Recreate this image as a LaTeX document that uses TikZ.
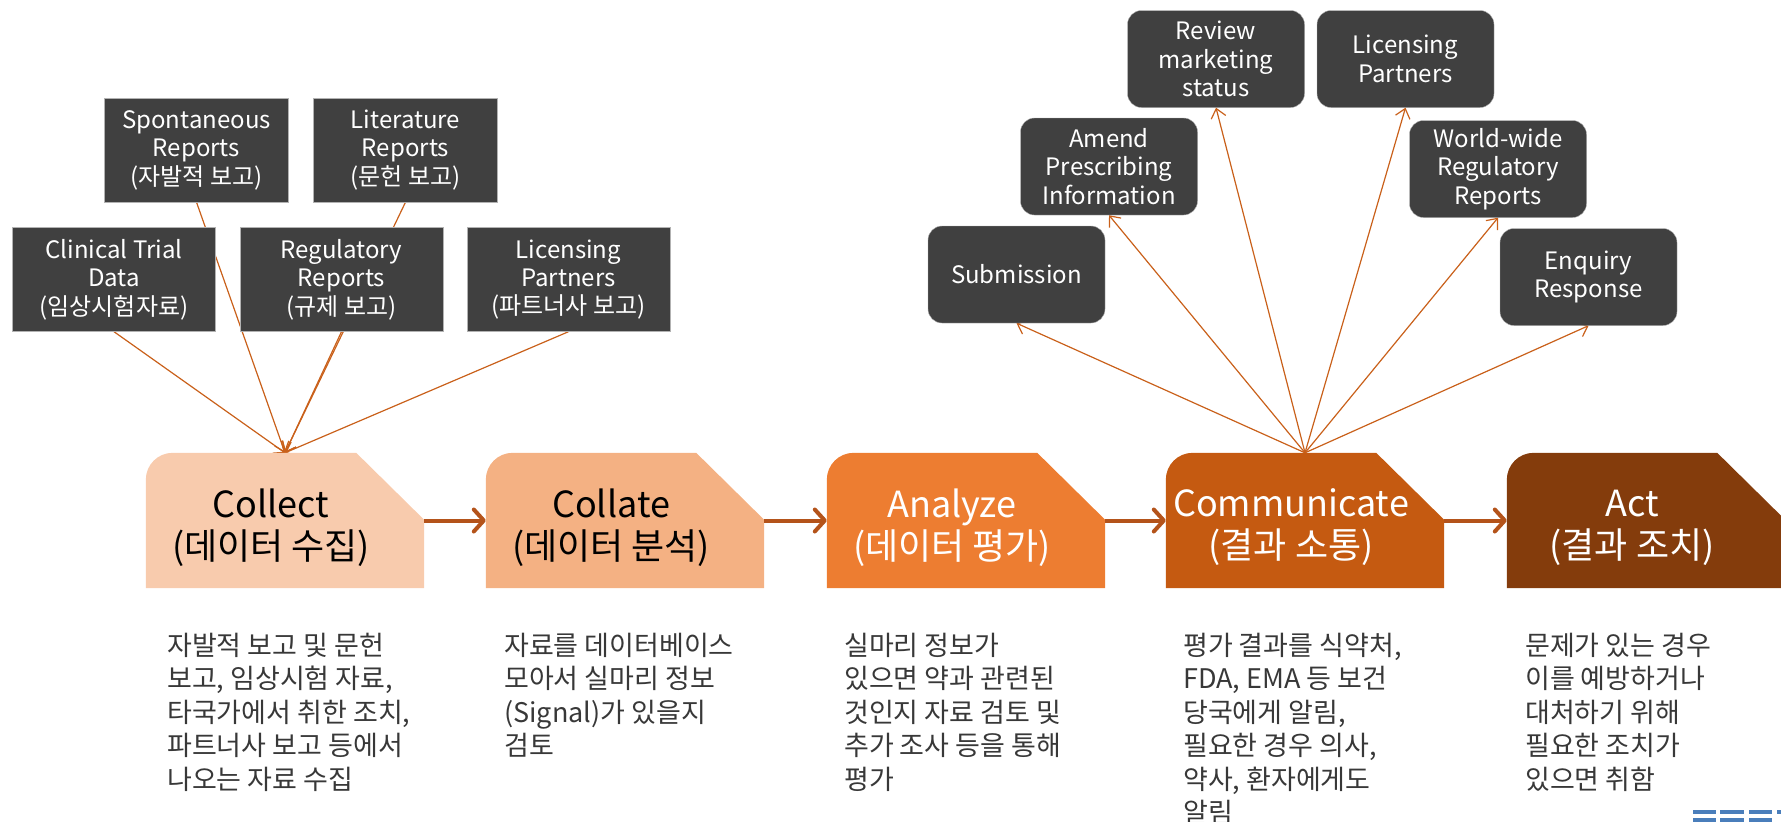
\documentclass[tikz,border=0pt]{standalone}
\usepackage{fontspec}
\setmainfont{Noto Sans CJK KR}
\usetikzlibrary{arrows.meta,calc,backgrounds}

\definecolor{collectc}{HTML}{F8CBAD}
\definecolor{collatec}{HTML}{F4B183}
\definecolor{analyzec}{HTML}{ED7D31}
\definecolor{communicatec}{HTML}{C55A11}
\definecolor{actc}{HTML}{843C0C}
\definecolor{boxgray}{HTML}{404040}
\definecolor{desctextc}{HTML}{383838}
\definecolor{fanc}{HTML}{C9601A}
\definecolor{flowc}{HTML}{B4531A}
\definecolor{logoc}{HTML}{4A7EBB}

\tikzset{
  srcbox/.style={fill=boxgray, draw=gray!60, text=white, align=center, inner sep=0pt,
    minimum height=104pt, font=\fontsize{24}{28.4}\selectfont},
  actbox/.style={srcbox, rounded corners=14pt, minimum width=177pt, minimum height=97pt},
  stepbody/.style={minimum width=278pt, minimum height=135pt, inner sep=0pt},
  steplabel/.style={align=center, inner sep=0pt, font=\fontsize{36}{42}\selectfont},
  desctext/.style={anchor=north west, align=left, inner sep=0pt, text=desctextc,
    font=\fontsize{27}{33.4}\selectfont},
  fanline/.style={draw=fanc, line width=1.2pt, -{Straight Barb[length=9pt,width=15pt]}},
  steparrow/.style={draw=flowc, line width=4pt, -{Straight Barb[length=10pt,width=22pt,round]}}
}

\newcommand{\stepshape}[2]{%
  \fill[#2] (#1.south west) -- ($(#1.north west)+(0,27)$)
    .. controls ($(#1.north west)+(0,12)$) and ($(#1.north west)+(12,0)$) .. ($(#1.north west)+(27,0)$)
    -- ($(#1.north east)+(-68,0)$) -- ($(#1.north east)+(0,67)$) -- (#1.south east) -- cycle;}

\begin{document}
\begin{tikzpicture}[x=1pt, y=-1pt]

     \useasboundingbox (0,0) rectangle (1781,822);
     \clip (0,0) rectangle (1781,822);

     % sources of data
     \node (spont) at (196.5, 150) [srcbox, minimum width=184pt] {Spontaneous\\Reports\\(자발적 보고)};
     \node (lit) at (405.5, 150) [srcbox, minimum width=184pt] {Literature\\Reports\\(문헌 보고)};
     \node (clin) at (114, 279.5) [srcbox, minimum width=203pt] {Clinical Trial\\Data\\(임상시험자료)};
     \node (reg) at (341.5, 279.5) [srcbox, minimum width=203pt] {Regulatory\\Reports\\(규제 보고)};
     \node (licl) at (568.5, 279.5) [srcbox, minimum width=203pt] {Licensing\\Partners\\(파트너사 보고)};

     % outcomes of communication
     \node (subm) at (1016.5, 274.5) [actbox] {Submission};
     \node (amend) at (1109, 166.5) [actbox] {Amend\\Prescribing\\Information};
     \node (review) at (1216, 59) [actbox] {Review\\marketing\\status};
     \node (licr) at (1405.5, 59) [actbox] {Licensing\\Partners};
     \node (world) at (1498, 169) [actbox] {World-wide\\Regulatory\\Reports};
     \node (enq) at (1588.5, 277) [actbox] {Enquiry\\Response};

     % process steps
     \node (collect) at (285, 520.5) [stepbody] {};
     \node (collate) at (625, 520.5) [stepbody] {};
     \node (analyze) at (966, 520.5) [stepbody] {};
     \node (communicate) at (1305, 520.5) [stepbody] {};
     \node (act) at (1646, 520.5) [stepbody] {};

     \stepshape{collect}{collectc}
     \stepshape{collate}{collatec}
     \stepshape{analyze}{analyzec}
     \stepshape{communicate}{communicatec}
     \stepshape{act}{actc}

     \node (collectlbl) at ($(collect.center)+(-14,7)$) [steplabel, text=black] {Collect\\(데이터 수집)};
     \node (collatelbl) at ($(collate.center)+(-14,7)$) [steplabel, text=black] {Collate\\(데이터 분석)};
     \node (analyzelbl) at ($(analyze.center)+(-14,7)$) [steplabel, text=white] {Analyze\\(데이터 평가)};
     \node (communicatelbl) at ($(communicate.center)+(-14,7)$) [steplabel, text=white] {Communicate\\(결과 소통)};
     \node (actlbl) at ($(act.center)+(-14,7)$) [steplabel, text=white] {Act\\(결과 조치)};

     \draw [steparrow] (collect.east) -- (collate.west);
     \draw [steparrow] (collate.east) -- (analyze.west);
     \draw [steparrow] (analyze.east) -- (communicate.west);
     \draw [steparrow] (communicate.east) -- (act.west);

     \begin{pgfonlayer}{background}
     \draw [fanline] (spont.south) -- (collect.north);
     \draw [fanline] (lit.south) -- (collect.north);
     \draw [fanline] (clin.south) -- (collect.north);
     \draw [fanline] (reg.south) -- (collect.north);
     \draw [fanline] (licl.south) -- (collect.north);

     \draw [fanline] (communicate.north) -- (subm.south);
     \draw [fanline] (communicate.north) -- (amend.south);
     \draw [fanline] (communicate.north) -- (review.south);
     \draw [fanline] (communicate.north) -- (licr.south);
     \draw [fanline] (communicate.north) -- (world.south);
     \draw [fanline] (communicate.north) -- (enq.south);
     \end{pgfonlayer}

     % descriptions
     \node (collectdesc) at (167, 633) [desctext] {자발적 보고 및 문헌\\보고, 임상시험 자료,\\타국가에서 취한 조치,\\파트너사 보고 등에서\\나오는 자료 수집};
     \node (collatedesc) at (504, 633) [desctext] {자료를 데이터베이스\\모아서 실마리 정보\\(Signal)가 있을지\\검토};
     \node (analyzedesc) at (844, 633) [desctext] {실마리 정보가\\있으면 약과 관련된\\것인지 자료 검토 및\\추가 조사 등을 통해\\평가};
     \node (communicatedesc) at (1183, 633) [desctext] {평가 결과를 식약처,\\FDA, EMA 등 보건\\당국에게 알림,\\필요한 경우 의사,\\약사, 환자에게도\\알림};
     \node (actdesc) at (1525, 633) [desctext] {문제가 있는 경우\\이를 예방하거나\\대처하기 위해\\필요한 조치가\\있으면 취함};

     % logo fragment
     \fill [logoc] (1693,810) rectangle (1716,814);
     \fill [logoc] (1720,810) rectangle (1744,814);
     \fill [logoc] (1749,810) rectangle (1772,814);
     \fill [logoc] (1777,810) rectangle (1781,814);
     \fill [logoc] (1693,818) rectangle (1716,822);
     \fill [logoc] (1720,818) rectangle (1744,822);
     \fill [logoc] (1749,818) rectangle (1772,822);

\end{tikzpicture}
\end{document}
